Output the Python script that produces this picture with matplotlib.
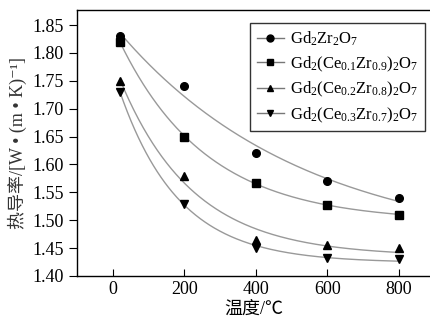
import numpy as np
import matplotlib
matplotlib.use("Agg")
import matplotlib.pyplot as plt
from matplotlib.lines import Line2D

plt.rcParams['font.family'] = ['Liberation Serif', 'Noto Sans CJK SC', 'DejaVu Sans']
plt.rcParams['mathtext.fontset'] = 'custom'
plt.rcParams['mathtext.rm'] = 'Liberation Serif'
plt.rcParams['mathtext.it'] = 'Liberation Serif:italic'

temps = [20, 200, 400, 600, 800]
gzo = [1.83, 1.74, 1.62, 1.57, 1.54]
ce01 = [1.82, 1.65, 1.567, 1.527, 1.51]
ce02 = [1.75, 1.58, 1.465, 1.455, 1.45]
ce03 = [1.73, 1.53, 1.45, 1.432, 1.43]
labels = [r'$\mathrm{Gd_2Zr_2O_7}$',
          r'$\mathrm{Gd_2(Ce_{0.1}Zr_{0.9})_2O_7}$',
          r'$\mathrm{Gd_2(Ce_{0.2}Zr_{0.8})_2O_7}$',
          r'$\mathrm{Gd_2(Ce_{0.3}Zr_{0.7})_2O_7}$']
markers = ['o', 's', '^', 'v']
xticks = [0, 200, 400, 600, 800]
yticks = [1.40, 1.45, 1.50, 1.55, 1.60, 1.65, 1.70, 1.75, 1.80, 1.85]


def expfit(x, y):
    x = np.asarray(x, float); y = np.asarray(y, float)
    best = None
    for t in np.linspace(30, 3000, 3000):
        A = np.column_stack([np.ones_like(x), np.exp(-x / t)])
        coef, *_ = np.linalg.lstsq(A, y, rcond=None)
        err = np.sum((A @ coef - y) ** 2)
        if best is None or err < best[0]:
            best = (err, coef, t)
    _, (a, b), t = best
    return lambda xx: a + b * np.exp(-xx / t)


fig = plt.figure(figsize=(4.31, 3.28), dpi=100)
ax = fig.add_axes([77/431, 52/328, 1 - 77/431, (276-10)/328])

handles = []
for ys, m, lab in zip([gzo, ce01, ce02, ce03], markers, labels):
    f = expfit(temps, ys)
    xx = np.linspace(temps[0], temps[-1], 300)
    ax.plot(xx, f(xx), color='#999999', lw=1.0, zorder=2)
    ax.plot(temps, ys, linestyle='none', marker=m, color='black', ms=5.5, zorder=3)
    handles.append(Line2D([], [], color='#777777', lw=1.0, marker=m,
                          markerfacecolor='black', markeredgecolor='black', ms=5))

ax.set_xlim(-100, 890)
ax.set_ylim(1.40, 1.877)
ax.set_xticks(xticks)
ax.set_yticks(yticks)
ax.set_yticklabels([f'{v:.2f}' for v in yticks])
ax.spines['right'].set_visible(False)
for s in ['left', 'bottom', 'top']:
    ax.spines[s].set_linewidth(1.0)
ax.tick_params(axis='x', direction='in', length=5, labelsize=13, top=False)
ax.tick_params(axis='y', direction='out', length=6, labelsize=13)
ax.set_xlabel('温度/℃', fontsize=13, labelpad=2)
ax.set_ylabel('热导率/[W • (m • K)⁻¹]', fontsize=13, labelpad=4,
              color='#333333')

leg = ax.legend(handles, labels, loc='upper right',
                bbox_to_anchor=((425-77)/354, (276-23)/266),
                borderaxespad=0,
                fontsize=12, frameon=True, fancybox=False, edgecolor='black',
                handlelength=1.6, handletextpad=0.4, labelspacing=0.38,
                borderpad=0.4)
leg.get_frame().set_linewidth(1.0)

fig.savefig('out.png', dpi=100)
